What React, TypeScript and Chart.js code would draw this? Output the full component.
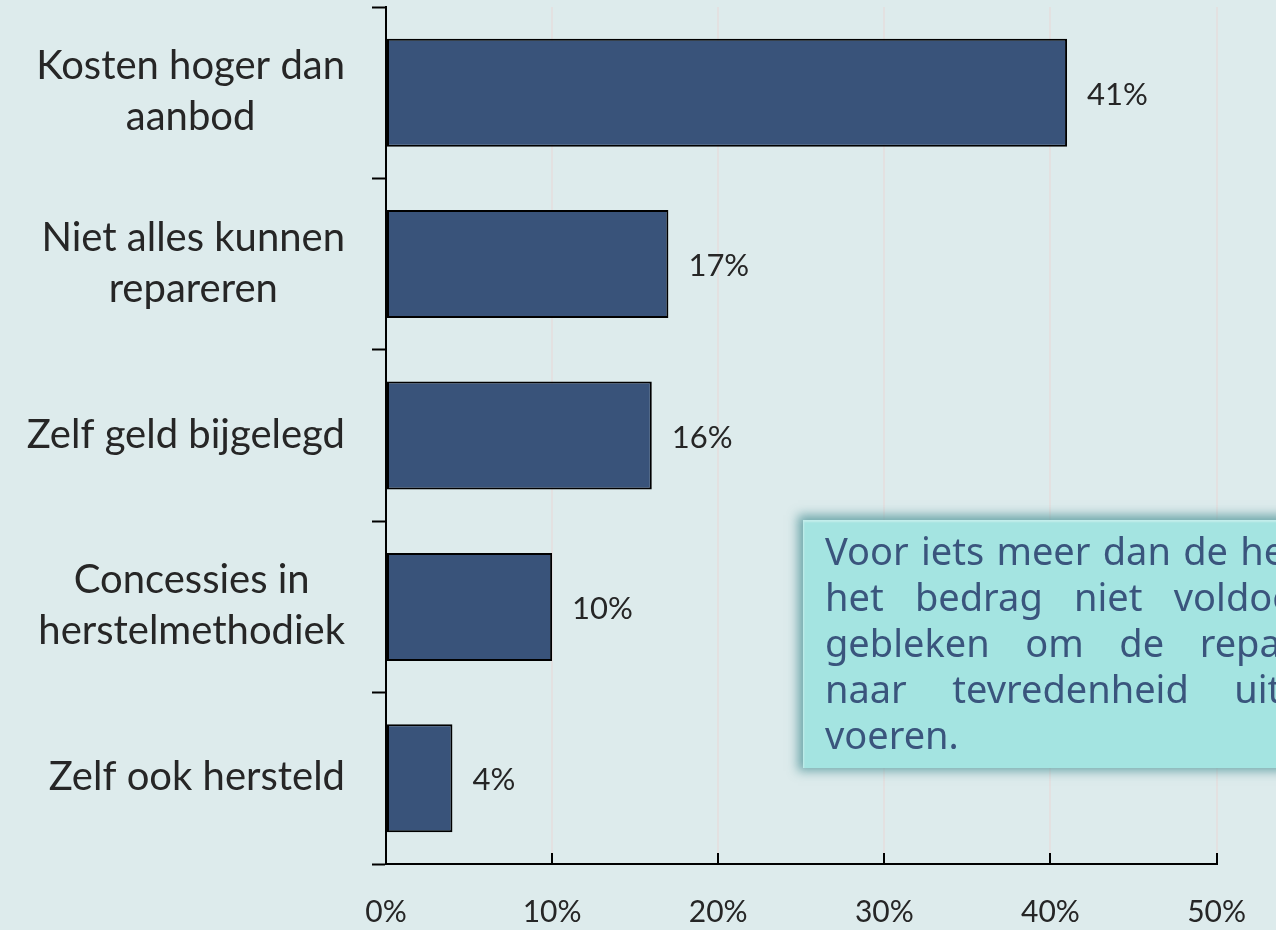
import React, { useEffect, useRef } from "react";
import { Chart, registerables } from "chart.js";

Chart.register(...registerables);

const categories: string[][] = [
  ["Kosten hoger dan", "aanbod"],
  ["Niet alles kunnen", "repareren"],
  ["Zelf geld bijgelegd"],
  ["Concessies in", "herstelmethodiek"],
  ["Zelf ook hersteld"],
];
const values: number[] = [41, 17, 16, 10, 4];
const xTickValues: number[] = [0, 10, 20, 30, 40, 50];
const noteLines: string[] = [
  "Voor iets meer dan de helft is",
  "het bedrag niet voldoende",
  "gebleken om de reparatie",
  "naar tevredenheid uit te",
  "voeren.",
];

const LABEL_FONT = '40px Lato';
const VALUE_FONT = '31px Lato';
const TEXT_COLOR = '#262626';

const yLabelsPlugin = {
  id: 'yLabels',
  afterDraw(chart: any) {
    const ctx = chart.ctx;
    const y = chart.scales.y;
    const rightEdge = 345;
    const lineH = 51;
    ctx.save();
    ctx.font = LABEL_FONT;
    ctx.fillStyle = TEXT_COLOR;
    ctx.textAlign = 'center';
    ctx.textBaseline = 'alphabetic';
    categories.forEach((lines, i) => {
      const cy = y.getPixelForValue(i);
      const w = Math.max(...lines.map((l) => ctx.measureText(l).width));
      const cx = rightEdge - w / 2;
      const n = lines.length;
      lines.forEach((l, j) => {
        ctx.fillText(l, cx, cy + (j - (n - 1) / 2) * lineH + 12);
      });
    });
    ctx.restore();
  },
};

const valueLabelsPlugin = {
  id: 'valueLabels',
  afterDatasetsDraw(chart: any) {
    const ctx = chart.ctx;
    const meta = chart.getDatasetMeta(0);
    ctx.save();
    ctx.font = VALUE_FONT;
    ctx.fillStyle = TEXT_COLOR;
    ctx.textAlign = 'left';
    ctx.textBaseline = 'alphabetic';
    meta.data.forEach((bar: any, i: number) => {
      ctx.fillText(values[i] + '%', bar.x + 20, bar.y + 12);
    });
    ctx.restore();
  },
};

const xTickMarksPlugin = {
  id: 'xTickMarks',
  afterDraw(chart: any) {
    const ctx = chart.ctx;
    const x = chart.scales.x;
    const bottom = chart.chartArea.bottom;
    ctx.save();
    ctx.strokeStyle = '#000';
    ctx.lineWidth = 2;
    xTickValues.forEach((v) => {
      const px = Math.round(x.getPixelForValue(v));
      ctx.beginPath();
      ctx.moveTo(px, bottom);
      ctx.lineTo(px, bottom - 11);
      ctx.stroke();
    });
    ctx.restore();
  },
};

export default function App() {
  const canvasRef = useRef<HTMLCanvasElement | null>(null);

  useEffect(() => {
    if (!canvasRef.current) return;
    const chart = new Chart(canvasRef.current, {
      type: 'bar',
      data: {
        labels: categories.map((c) => c.join(' ')),
        datasets: [
          {
            data: values,
            backgroundColor: '#39537a',
            borderColor: '#000000',
            borderWidth: 2,
            borderSkipped: false,
            barPercentage: 0.63,
            categoryPercentage: 1,
          },
        ],
      },
      options: {
        indexAxis: 'y',
        responsive: false,
        maintainAspectRatio: false,
        animation: false,
        layout: { padding: { left: 372, top: 7, right: 58, bottom: 0 } },
        plugins: {
          legend: { display: false },
          tooltip: { enabled: false },
        },
        scales: {
          x: {
            min: 0,
            max: 50,
            afterBuildTicks: (s: any) => {
              s.ticks = xTickValues.map((v) => ({ value: v }));
            },
            afterFit: (s: any) => {
              s.height = 66;
            },
            ticks: {
              callback: (v: any) => v + '%',
              font: { family: 'Lato', size: 30 },
              color: TEXT_COLOR,
              padding: 30,
              maxRotation: 0,
            },
            grid: { color: '#e3e1e1', lineWidth: 2, drawTicks: false },
            border: { color: '#000', width: 2 },
          },
          y: {
            offset: true,
            ticks: { display: false },
            grid: {
              offset: true,
              drawOnChartArea: false,
              drawTicks: true,
              tickLength: 14,
              tickColor: '#000',
              tickWidth: 2,
            },
            border: { color: '#000', width: 2 },
            afterFit: (s: any) => {
              s.width = 14;
            },
          },
        },
      } as any,
      plugins: [yLabelsPlugin, valueLabelsPlugin, xTickMarksPlugin],
    });
    return () => chart.destroy();
  }, []);

  return (
    <div
      style={{
        position: 'fixed',
        left: 0,
        top: 0,
        width: 1276,
        height: 930,
        overflow: 'hidden',
        background: '#ddebec',
      }}
    >
      <canvas
        ref={canvasRef}
        width={1276}
        height={930}
        style={{ display: 'block', width: 1276, height: 930 }}
      />
      <div
        style={{
          position: 'absolute',
          left: 803,
          top: 520,
          width: 600,
          height: 248,
          boxSizing: 'border-box',
          padding: '7px 0 0 22px',
          background: '#a4e4e1',
          boxShadow:
            'inset 2px 3px 2px -1px rgba(255,255,255,0.35), -1px -1px 10px 4px rgba(82,150,155,0.8)',
        }}
      >
        <div
          style={{
            width: 537,
            font: '38px "Noto Sans"',
            lineHeight: '46px',
            color: '#3a557d',
          }}
        >
          {noteLines.map((l, i) => (
            <div
              key={i}
              style={{
                textAlign: i === noteLines.length - 1 ? 'left' : 'justify',
                textAlignLast: i === noteLines.length - 1 ? 'left' : 'justify',
              }}
            >
              {l}
            </div>
          ))}
        </div>
      </div>
    </div>
  );
}
